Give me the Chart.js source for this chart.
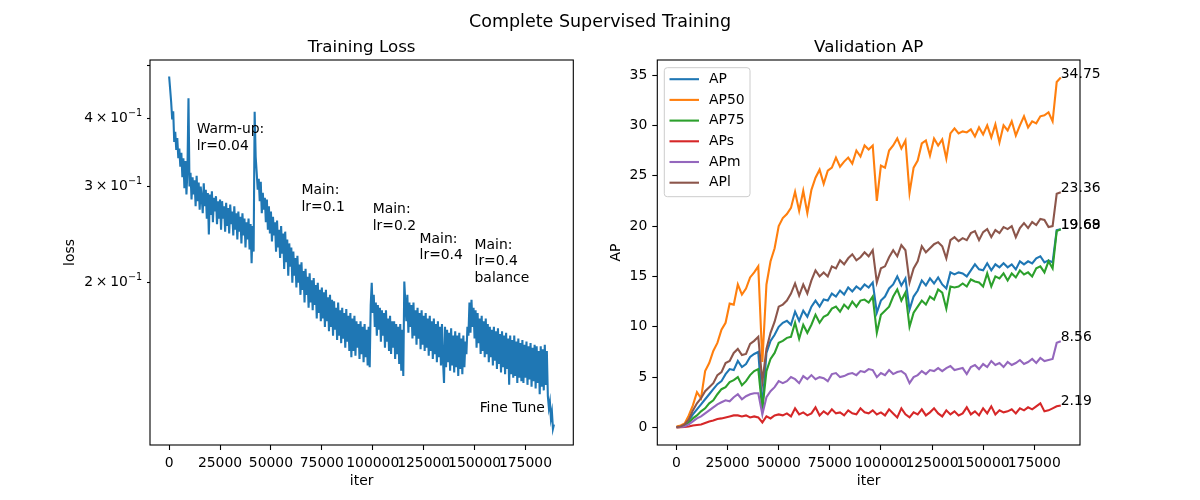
<!DOCTYPE html>
<html>
<head>
<meta charset="utf-8">
<script src="https://cdn.jsdelivr.net/npm/chart.js@4.4.1/dist/chart.umd.min.js"></script>
<style>
  body { margin: 0; background: #fff; }
  #wrap { position: relative; width: 1200px; height: 500px; }
  canvas { position: absolute; left: 0; top: 0; }
</style>
</head>
<body>
<div id="wrap">
  <canvas id="lossChart" width="1200" height="500"></canvas>
  <canvas id="apChart" width="1200" height="500"></canvas>
</div>
<script>
// training loss, one value every 500 iters
const lossStep = 500;
const lossValues = [
  0.477,0.452,0.428,0.398,0.412,0.362,0.378,0.350,0.368,0.338,
  0.352,0.326,0.346,0.312,0.338,0.298,0.334,0.290,0.322,0.435,
  0.300,0.318,0.284,0.312,0.290,0.308,0.276,0.314,0.282,0.305,
  0.272,0.300,0.286,0.268,0.304,0.276,0.296,0.262,0.292,0.245,
  0.290,0.266,0.294,0.258,0.286,0.270,0.288,0.256,0.282,0.262,
  0.284,0.250,0.282,0.262,0.276,0.248,0.280,0.254,0.274,0.246,
  0.278,0.256,0.270,0.244,0.276,0.250,0.268,0.240,0.270,0.248,
  0.264,0.236,0.268,0.244,0.262,0.232,0.258,0.240,0.262,0.230,
  0.256,0.217,0.254,0.228,0.411,0.340,0.318,0.296,0.310,0.282,
  0.306,0.268,0.292,0.272,0.286,0.258,0.284,0.250,0.276,0.246,
  0.270,0.238,0.264,0.244,0.258,0.228,0.260,0.232,0.250,0.222,
  0.254,0.226,0.246,0.212,0.248,0.218,0.240,0.206,0.236,0.214,
  0.232,0.200,0.228,0.206,0.222,0.196,0.224,0.200,0.216,0.190,
  0.218,0.194,0.210,0.184,0.212,0.190,0.205,0.180,0.208,0.184,
  0.202,0.178,0.204,0.182,0.198,0.172,0.200,0.176,0.194,0.170,
  0.196,0.172,0.192,0.166,0.194,0.170,0.188,0.163,0.190,0.166,
  0.186,0.160,0.185,0.164,0.180,0.157,0.184,0.160,0.178,0.155,
  0.180,0.158,0.176,0.152,0.179,0.156,0.174,0.150,0.176,0.146,
  0.172,0.150,0.174,0.147,0.170,0.152,0.168,0.145,0.170,0.148,
  0.166,0.143,0.168,0.146,0.164,0.141,0.166,0.140,0.182,0.200,
  0.176,0.190,0.166,0.184,0.160,0.182,0.164,0.180,0.156,0.178,
  0.160,0.176,0.152,0.178,0.156,0.172,0.150,0.174,0.148,0.170,
  0.152,0.170,0.145,0.168,0.148,0.166,0.142,0.168,0.138,0.164,
  0.135,0.201,0.184,0.170,0.190,0.162,0.184,0.166,0.182,0.158,
  0.184,0.160,0.178,0.154,0.180,0.158,0.176,0.151,0.178,0.154,
  0.174,0.150,0.176,0.152,0.172,0.147,0.174,0.150,0.170,0.145,
  0.172,0.148,0.168,0.143,0.170,0.146,0.166,0.141,0.168,0.144,
  0.131,0.166,0.140,0.164,0.143,0.162,0.138,0.165,0.141,0.160,
  0.137,0.163,0.140,0.160,0.135,0.162,0.139,0.158,0.136,0.160,
  0.140,0.156,0.148,0.166,0.160,0.184,0.162,0.186,0.166,0.180,
  0.158,0.178,0.152,0.176,0.155,0.172,0.148,0.174,0.150,0.170,
  0.146,0.172,0.148,0.168,0.143,0.166,0.146,0.164,0.141,0.166,
  0.144,0.163,0.139,0.165,0.142,0.161,0.137,0.163,0.140,0.160,
  0.136,0.162,0.139,0.158,0.130,0.160,0.136,0.157,0.134,0.160,
  0.135,0.156,0.131,0.158,0.134,0.155,0.132,0.157,0.131,0.154,
  0.134,0.156,0.130,0.153,0.133,0.155,0.129,0.152,0.132,0.154,
  0.128,0.153,0.131,0.150,0.125,0.153,0.129,0.151,0.127,0.154,
  0.130,0.150,0.124,0.118,0.121,0.113,0.116,0.108,0.110
];

// validation AP, one eval every 2000 iters
const apStep = 2000;
const apAP = [
  0.05,0.1,0.25,0.7,1.3,1.8,2.3,2.8,3.3,3.8,
  4.3,4.6,5.3,5.8,5.7,6.6,6.0,6.3,7.0,7.3,
  7.5,2.0,7.4,8.6,9.2,10.0,10.4,10.6,10.2,11.5,
  10.6,11.6,11.0,12.0,12.6,12.0,12.7,12.6,13.3,13.0,
  13.6,13.2,13.9,13.5,14.0,13.7,14.2,13.9,14.4,11.4,
  12.6,13.0,13.8,14.2,15.0,14.1,14.8,11.7,13.0,13.6,
  14.6,14.1,14.8,14.3,14.9,14.2,13.8,15.4,15.2,15.4,
  15.3,15.0,15.6,16.2,15.7,15.6,16.3,15.6,16.2,15.9,
  16.3,15.9,16.2,15.7,16.5,16.2,16.5,16.3,16.8,17.0,
  16.4,16.6,16.4,19.6,19.69
];
const apAP50 = [
  0.1,0.2,0.4,1.2,2.2,3.5,2.9,5.6,6.4,7.6,
  8.4,9.7,10.4,12.3,12.2,14.2,13.2,13.8,14.9,15.4,
  16.0,6.5,14.2,16.5,17.8,20.0,20.8,21.2,21.8,23.4,
  21.5,23.5,21.3,23.6,24.8,25.6,24.2,25.5,25.8,26.8,
  25.9,26.4,26.8,26.2,27.5,26.9,28.0,27.6,28.0,22.5,
  26.0,25.8,27.5,28.0,28.7,27.7,28.5,23.3,25.8,26.5,
  28.2,28.5,27.0,28.7,28.0,28.6,26.7,29.2,29.7,29.2,
  29.4,29.3,29.6,28.9,29.8,29.1,30.0,28.8,30.1,28.3,
  30.0,29.5,30.4,29.0,30.0,30.9,29.8,30.4,30.2,30.9,
  31.0,31.3,30.4,34.3,34.75
];
const apAP75 = [
  0.03,0.05,0.15,0.5,0.9,1.2,1.6,1.9,2.4,2.7,
  3.3,3.8,4.0,4.5,4.7,5.0,4.2,4.6,5.2,5.6,
  5.8,1.8,5.6,6.8,7.4,8.4,8.6,8.9,9.0,10.4,
  8.8,10.2,9.4,10.2,11.2,10.4,11.0,11.2,11.8,12.0,
  11.5,12.2,11.8,12.5,12.0,12.6,12.7,12.4,13.0,9.4,
  11.2,11.6,12.0,13.0,13.7,12.6,13.4,10.0,11.4,12.0,
  12.6,12.2,13.0,12.7,13.7,13.4,11.8,14.0,13.9,14.0,
  14.3,14.0,14.7,14.5,14.4,14.0,15.3,14.0,15.0,14.8,
  15.3,14.6,15.3,14.9,15.6,15.2,15.4,15.0,15.8,16.0,
  15.4,16.5,15.8,19.5,19.68
];
const apAPs = [
  0.0,0.02,0.05,0.1,0.2,0.25,0.3,0.45,0.6,0.7,
  0.85,0.9,1.0,1.1,1.2,1.2,1.1,1.2,1.0,1.1,
  1.0,0.5,1.1,0.9,1.2,1.3,1.2,1.4,1.1,1.9,
  1.3,1.5,1.2,1.4,2.0,1.2,1.6,1.3,1.8,1.4,
  1.5,1.2,1.7,1.4,1.3,1.9,1.5,1.4,1.7,1.3,
  1.5,1.2,1.8,1.4,1.0,1.9,1.3,1.0,1.5,1.3,
  1.8,1.2,1.5,1.9,1.4,1.1,1.7,1.3,1.6,1.2,
  1.4,2.0,1.3,1.6,1.2,1.9,1.4,2.1,1.3,1.7,
  1.5,1.6,1.8,1.4,1.9,1.7,2.0,1.8,2.1,2.4,
  1.6,1.7,1.9,2.1,2.19
];
const apAPm = [
  0.02,0.05,0.1,0.3,0.6,0.9,1.1,1.4,1.7,2.0,
  2.3,2.5,2.7,2.6,3.0,3.3,2.8,3.1,3.3,3.4,
  3.4,1.3,3.0,3.6,4.0,4.6,4.4,4.6,5.0,4.8,
  4.4,5.1,4.8,5.2,4.8,5.0,4.9,4.6,5.3,5.4,
  5.0,5.1,5.3,5.4,5.2,5.6,5.5,5.8,5.7,5.0,
  5.4,5.2,5.7,5.3,5.5,5.6,5.3,4.4,5.0,5.2,
  5.6,5.3,5.7,5.6,5.9,5.6,5.9,6.1,5.7,5.8,
  5.9,5.3,6.0,6.2,5.8,6.3,6.0,6.6,6.2,6.4,
  6.0,6.5,6.2,6.4,6.7,6.3,6.5,6.8,6.4,6.9,
  6.6,6.7,6.8,8.4,8.56
];
const apAPl = [
  0.05,0.1,0.3,0.8,1.7,2.4,2.9,3.6,4.0,4.4,
  5.2,5.5,6.4,6.6,7.4,7.8,7.2,7.3,8.3,8.6,
  9.0,4.5,7.8,9.4,10.5,12.0,12.2,12.6,13.3,14.3,
  13.1,14.2,13.3,14.6,15.6,15.0,15.4,15.0,16.0,15.8,
  16.6,16.2,16.8,17.2,16.6,16.9,17.4,17.0,17.6,14.4,
  15.8,16.0,16.9,17.6,17.0,18.1,17.6,14.4,15.8,16.5,
  18.0,17.4,17.8,18.2,18.4,18.0,16.8,18.6,18.9,18.5,
  18.8,18.6,19.3,19.5,18.6,19.4,19.7,18.9,19.6,19.3,
  19.9,19.7,20.0,18.9,19.8,20.3,19.8,20.4,20.1,20.7,
  20.6,19.9,20.0,23.2,23.36
];
const apNames = ["AP", "AP50", "AP75", "APs", "APm", "APl"];
const apSeries = [apAP, apAP50, apAP75, apAPs, apAPm, apAPl];
const apColors = ["#1f77b4", "#ff7f0e", "#2ca02c", "#d62728", "#9467bd", "#8c564b"];

const iterTicks = [0, 25000, 50000, 75000, 100000, 125000, 150000, 175000];
const lossTicks = [0.2, 0.3, 0.4, 0.5];
const lossTickMant = ["2", "3", "4", ""];
const apTicks = [0, 5, 10, 15, 20, 25, 30, 35];

// stage notes on the loss plot
const stageIters = [13500, 65000, 100000, 123000, 150000, 152500];
const stageLoss = [0.381, 0.295, 0.272, 0.240, 0.234, 0.1175];
const stageTexts = [
  ["Warm-up:", "lr=0.04"],
  ["Main:", "lr=0.1"],
  ["Main:", "lr=0.2"],
  ["Main:", "lr=0.4"],
  ["Main:", "lr=0.4", "balance"],
  ["Fine Tune"]
];

const FONT = '"DejaVu Sans", sans-serif';
const SMALL = 13.9;
const BIG = 16.7;

function put(ctx, s, x, y, size, align, base, rot) {
  ctx.save();
  ctx.font = size + 'px ' + FONT;
  ctx.fillStyle = '#000';
  ctx.textAlign = align;
  ctx.textBaseline = base;
  ctx.translate(x, y);
  if (rot) ctx.rotate(rot);
  ctx.fillText(s, 0, 0);
  ctx.restore();
}

const framePlugin = {
  id: 'frame',
  afterDatasetsDraw(chart) {
    const a = chart.chartArea, ctx = chart.ctx;
    ctx.save();
    ctx.strokeStyle = '#000';
    ctx.lineWidth = 1.1;
    ctx.strokeRect(a.left, a.top, a.right - a.left, a.bottom - a.top);
    ctx.restore();
  }
};

function axisOpts(ticks, fit, tickLen, extra) {
  return Object.assign({
    afterBuildTicks: s => { s.ticks = ticks.map(v => ({ value: v })); },
    afterFit: fit,
    grid: { drawOnChartArea: false, drawTicks: true, tickLength: tickLen, tickColor: '#000', tickWidth: 1.1 },
    border: { display: false },
    ticks: { autoSkip: false, maxRotation: 0, minRotation: 0, color: '#000', padding: 5,
             font: { family: FONT, size: SMALL }, callback: v => String(v) }
  }, extra || {});
}

// left: training loss
const lossPoints = lossValues.map((v, i) => ({ x: i * lossStep, y: v }));

const lossText = {
  id: 'lossText',
  afterDraw(chart) {
    const ctx = chart.ctx, a = chart.chartArea;
    const xs = chart.scales.x, ys = chart.scales.y;
    put(ctx, 'Complete Supervised Training', 600, 26.5, BIG + 0.8, 'center', 'alphabetic');
    put(ctx, 'Training Loss', (a.left + a.right) / 2, 51.5, BIG, 'center', 'alphabetic');
    put(ctx, 'iter', (a.left + a.right) / 2, 481, SMALL, 'center', 'middle');
    put(ctx, 'loss', 70, (a.top + a.bottom) / 2, SMALL, 'center', 'middle', -Math.PI / 2);

    // log tick labels drawn as mantissa x 10 with a raised exponent
    lossTicks.forEach((v, k) => {
      if (!lossTickMant[k]) return;
      const y = ys.getPixelForValue(v);
      const right = a.left - 7.8;
      ctx.save();
      ctx.font = '9.7px ' + FONT;
      const expW = ctx.measureText('\u22121').width;
      ctx.restore();
      put(ctx, '\u22121', right - expW, y - 5, 9.7, 'left', 'middle');
      put(ctx, lossTickMant[k] + '\u2009\u00d7\u200910', right - expW, y, SMALL, 'right', 'middle');
    });

    stageTexts.forEach((lines, k) => {
      const x = xs.getPixelForValue(stageIters[k]);
      const y = ys.getPixelForValue(stageLoss[k]);
      lines.forEach((s, j) => put(ctx, s, x, y + j * 16.4, SMALL, 'left', 'middle'));
    });
  }
};

new Chart(document.getElementById('lossChart'), {
  type: 'line',
  data: {
    datasets: [{
      label: 'loss',
      data: lossPoints,
      borderColor: '#1f77b4',
      borderWidth: 2.1,
      pointRadius: 0,
      tension: 0
    }]
  },
  options: {
    responsive: false,
    animation: false,
    devicePixelRatio: 1,
    events: [],
    layout: { padding: { left: 0, top: 60, right: 626.7, bottom: 0 } },
    plugins: { legend: { display: false }, tooltip: { enabled: false } },
    scales: {
      x: axisOpts(iterTicks, s => { s.height = 55; }, 5, { type: 'linear', min: -9400, max: 198500 }),
      y: (() => {
        const o = axisOpts(lossTicks, s => { s.width = 150; }, 3, { type: 'logarithmic', min: 0.10088, max: 0.5114 });
        o.ticks.callback = () => '';
        return o;
      })()
    }
  },
  plugins: [lossText, framePlugin]
});

// right: validation AP
const apText = {
  id: 'apText',
  afterDraw(chart) {
    const ctx = chart.ctx, a = chart.chartArea;
    const xs = chart.scales.x, ys = chart.scales.y;
    put(ctx, 'Validation AP', (a.left + a.right) / 2, 51.5, BIG, 'center', 'alphabetic');
    put(ctx, 'iter', (a.left + a.right) / 2, 481, SMALL, 'center', 'middle');
    put(ctx, 'AP', 616, (a.top + a.bottom) / 2, SMALL, 'center', 'middle', -Math.PI / 2);

    // value at the end of each curve
    apSeries.forEach(vals => {
      const last = vals.length - 1;
      const x = xs.getPixelForValue(last * apStep);
      const y = ys.getPixelForValue(vals[last]);
      put(ctx, vals[last].toFixed(2), x, y, SMALL, 'left', 'alphabetic');
    });

    // legend
    const lx = 664.3, ly = 67.7, lw = 85.7, lh = 129;
    ctx.save();
    ctx.beginPath();
    ctx.roundRect(lx, ly, lw, lh, 3);
    ctx.fillStyle = 'rgba(255,255,255,0.8)';
    ctx.fill();
    ctx.strokeStyle = '#cccccc';
    ctx.lineWidth = 1;
    ctx.stroke();
    apNames.forEach((n, k) => {
      const y = 79.2 + k * 20.7;
      ctx.beginPath();
      ctx.moveTo(669.5, y);
      ctx.lineTo(699, y);
      ctx.strokeStyle = apColors[k];
      ctx.lineWidth = 2.1;
      ctx.stroke();
      put(ctx, n, 709, y, SMALL, 'left', 'middle');
    });
    ctx.restore();
  }
};

new Chart(document.getElementById('apChart'), {
  type: 'line',
  data: {
    datasets: apSeries.map((vals, k) => ({
      label: apNames[k],
      data: vals.map((v, i) => ({ x: i * apStep, y: v })),
      borderColor: apColors[k],
      borderWidth: 2.1,
      pointRadius: 0,
      tension: 0,
      order: apSeries.length - k
    }))
  },
  options: {
    responsive: false,
    animation: false,
    devicePixelRatio: 1,
    events: [],
    layout: { padding: { left: 600, top: 60, right: 120, bottom: 0 } },
    plugins: { legend: { display: false }, tooltip: { enabled: false } },
    scales: {
      x: axisOpts(iterTicks, s => { s.height = 55; }, 5, { type: 'linear', min: -9400, max: 197400 }),
      y: axisOpts(apTicks, s => { s.width = 57.3; }, 5, { type: 'linear', min: -1.74, max: 36.49 })
    }
  },
  plugins: [apText, framePlugin]
});
</script>
</body>
</html>
